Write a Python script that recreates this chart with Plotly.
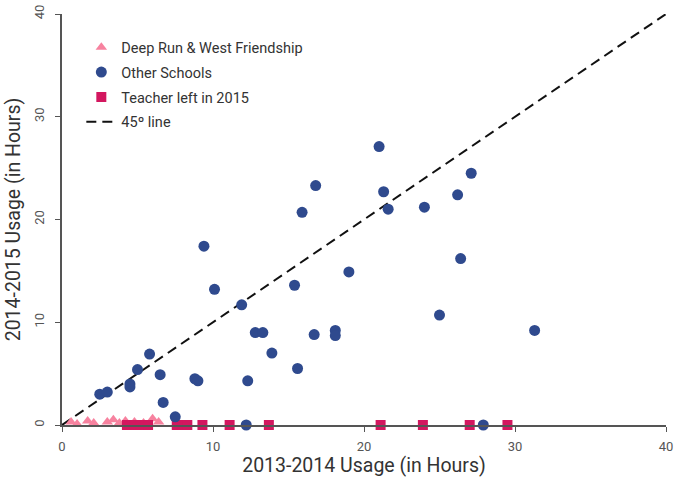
import plotly.graph_objects as go

# Deep Run & West Friendship (pink triangles)
tri_x = [0.6, 1.0, 1.7, 2.1, 3.0, 3.4, 3.8, 4.2, 4.8, 5.4, 6.0, 6.4]
tri_y = [0.3, 0.1, 0.4, 0.2, 0.3, 0.5, 0.2, 0.4, 0.3, 0.2, 0.6, 0.3]

# Other Schools (blue circles)
other_x = [21.0, 27.1, 16.8, 21.3, 26.2, 15.9, 21.6, 24.0, 9.4, 19.0, 26.4, 10.1,
           15.4, 11.9, 25.0, 31.3, 12.8, 13.3, 18.1, 18.1, 16.7, 13.9, 5.8, 15.6,
           5.0, 6.5, 8.8, 9.0, 12.3, 4.5, 4.5, 2.5, 3.0, 6.7, 7.5, 12.2, 27.9]
other_y = [27.1, 24.5, 23.3, 22.7, 22.4, 20.7, 21.0, 21.2, 17.4, 14.9, 16.2, 13.2,
           13.6, 11.7, 10.7, 9.2, 9.0, 9.0, 9.2, 8.7, 8.8, 7.0, 6.9, 5.5,
           5.4, 4.9, 4.5, 4.3, 4.3, 4.0, 3.7, 3.0, 3.2, 2.2, 0.8, 0.0, 0.0]

# Teacher left in 2015 (magenta squares)
sq_x = [4.3, 4.8, 5.2, 5.7, 7.6, 8.0, 8.3, 9.3, 11.1, 13.7, 21.1, 23.9, 27.0, 29.5]
sq_y = [0.0] * len(sq_x)

# 45 degree line
line_x = [0, 40]
line_y = [0, 40]

x_ticks = [0, 10, 20, 30, 40]
y_ticks = [0, 10, 20, 30, 40]

fig = go.Figure()
fig.add_trace(go.Scatter(x=line_x, y=line_y, mode="lines", name="45º line",
                         line=dict(color="#111111", width=2, dash="10px,6px"),
                         legendrank=4, legendgroup="d"))
fig.add_trace(go.Scatter(x=tri_x, y=tri_y, mode="markers", name="Deep Run & West Friendship",
                         marker=dict(symbol="triangle-up", size=10, color="#F7829F"),
                         cliponaxis=False, legendrank=1, legendgroup="a"))
fig.add_trace(go.Scatter(x=sq_x, y=sq_y, mode="markers", name="Teacher left in 2015",
                         marker=dict(symbol="square", size=10, color="#D3175F"),
                         cliponaxis=False, legendrank=3, legendgroup="c"))
fig.add_trace(go.Scatter(x=other_x, y=other_y, mode="markers", name="Other Schools",
                         marker=dict(symbol="circle", size=11, color="#2F4A8E"),
                         cliponaxis=False, legendrank=2, legendgroup="b"))

fig.update_layout(
    width=674, height=477,
    margin=dict(l=62, r=8, t=14, b=52),
    paper_bgcolor="white", plot_bgcolor="white",
    font=dict(family="Roboto", color="#333333"),
    legend=dict(x=0.032, y=0.958, xanchor="left", yanchor="top",
                font=dict(size=14.5, color="#333333"), itemwidth=30,
                tracegroupgap=3, bgcolor="rgba(0,0,0,0)"),
    xaxis=dict(range=[0, 40], tickvals=x_ticks, showgrid=False, zeroline=False,
               showline=True, linecolor="#555555", linewidth=1.5,
               ticks="outside", ticklen=5, tickcolor="#555555",
               tickfont=dict(size=13, color="#555555"), ticklabelstandoff=4,
               automargin=False,
               title=dict(text="2013-2014 Usage (in Hours)", font=dict(size=19.5, color="#333333"),
                          standoff=4)),
    yaxis=dict(range=[0, 40], tickvals=y_ticks, showgrid=False, zeroline=False,
               showline=True, linecolor="#555555", linewidth=1.5,
               ticks="outside", ticklen=5, tickcolor="#555555", tickangle=-90,
               tickfont=dict(size=13, color="#555555"), ticklabelstandoff=6,
               automargin=False,
               title=dict(text="2014-2015 Usage (in Hours)", font=dict(size=19.5, color="#333333"),
                          standoff=6)),
)

fig.write_html("out.html", config={"displayModeBar": False},
               post_script="document.body.style.margin='0';document.body.style.overflow='hidden';")
